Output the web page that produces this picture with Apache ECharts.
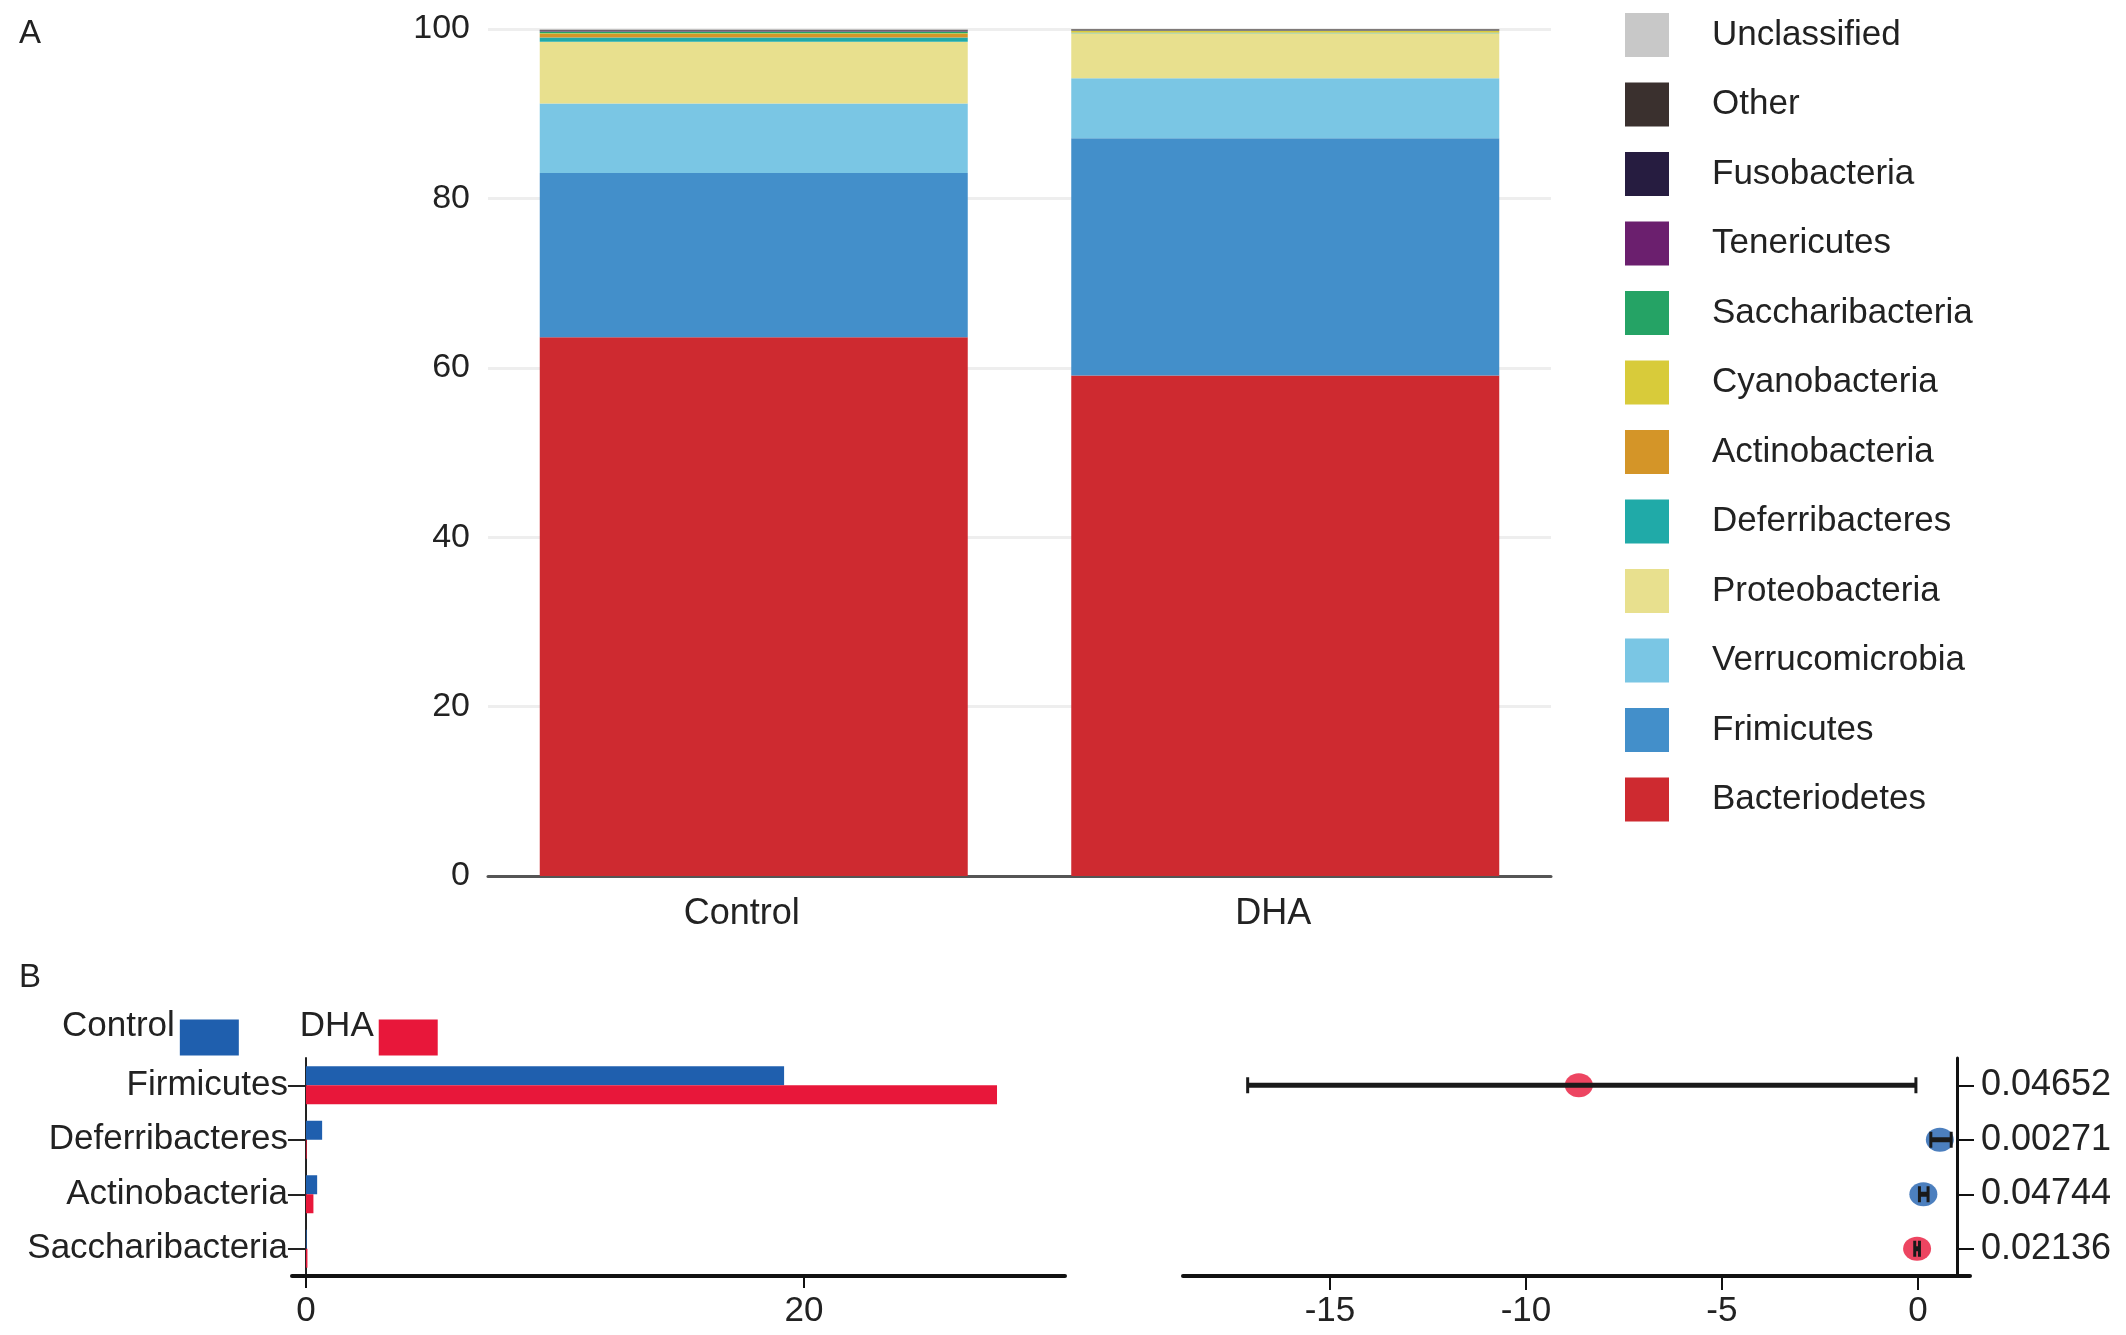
<!DOCTYPE html>
<html>
<head>
<meta charset="utf-8">
<script src="https://cdn.jsdelivr.net/npm/echarts@6/dist/echarts.min.js"></script>
<style>html,body{margin:0;padding:0;background:#fff}#c{width:2126px;height:1335px}</style>
</head>
<body>
<div id="c"></div>
<script>
// ---- Panel A data (relative abundance, %) ----
const groups = ['Control', 'DHA'];
const phyla = ['Bacteriodetes', 'Frimicutes', 'Verrucomicrobia', 'Proteobacteria', 'Deferribacteres',
  'Actinobacteria', 'Cyanobacteria', 'Saccharibacteria', 'Tenericutes', 'Fusobacteria', 'Other', 'Unclassified'];
const controlAbund = [63.6, 19.4, 8.2, 7.3, 0.5, 0.4, 0.1, 0.2, 0.1, 0.02, 0.1, 0.05];
const dhaAbund = [59.1, 28.0, 7.1, 5.3, 0.05, 0.05, 0.2, 0.03, 0.03, 0.02, 0.1, 0.02];
const yTicksA = [0, 20, 40, 60, 80, 100];

// ---- Panel B data ----
const diffTaxa = ['Firmicutes', 'Deferribacteres', 'Actinobacteria', 'Saccharibacteria'];
const controlMean = [19.2, 0.65, 0.45, 0.03];
const dhaMean = [27.75, 0.03, 0.3, 0.06];
const diffEst = [-8.65, 0.56, 0.14, -0.02];
const ciLow = [-17.1, 0.33, 0.04, -0.08];
const ciHigh = [-0.05, 0.85, 0.26, 0.04];
const pValues = ['0.04652', '0.00271', '0.04744', '0.02136'];
const xTicksBLeft = [0, 20];
const xTicksBRight = [-15, -10, -5, 0];

// ---- styles ----
const phylaColors = ['#ce2a30', '#438fca', '#7ac6e4', '#e8e08e', '#20aaa8', '#d49528',
  '#d8cb3a', '#25a365', '#6b1f6e', '#261c40', '#3a302e', '#c8c8c8'];
const ctrlColor = '#1f5fae';
const dhaColor = '#e8173a';
const FONT = '"Liberation Sans", Arial, Helvetica, sans-serif';
const txt = '#222';

const chart = echarts.init(document.getElementById('c'));

const stackSeries = phyla.map((p, i) => ({
  name: p, type: 'bar', stack: 'abund', xAxisIndex: 0, yAxisIndex: 0,
  barWidth: 428, itemStyle: { color: phylaColors[i] },
  data: [controlAbund[i], dhaAbund[i]]
}));

const option = {
  animation: false,
  textStyle: { fontFamily: FONT },
  title: [
    { text: 'A', left: 14, top: 12, textStyle: { fontSize: 33, fontWeight: 'normal', color: txt, fontFamily: FONT } },
    { text: 'B', left: 14, top: 956, textStyle: { fontSize: 33, fontWeight: 'normal', color: txt, fontFamily: FONT } }
  ],
  legend: [
    {
      data: phyla.slice().reverse(), orient: 'vertical', left: 1620, top: 8,
      itemWidth: 44, itemHeight: 44, itemGap: 25.5, icon: 'rect',
      selectedMode: false,
      textStyle: { fontSize: 35, color: txt, fontFamily: FONT, padding: [0, 0, 0, 38] }
    },
    {
      data: ['Control', 'DHA'], orient: 'horizontal', left: 57, top: 1004, align: 'right',
      itemWidth: 59, itemHeight: 36, itemGap: 61, icon: 'rect', selectedMode: false,
      formatter: function (name) { return '{t|' + name + '}'; },
      textStyle: {
        fontSize: 35, color: txt, fontFamily: FONT,
        rich: { t: { fontSize: 35, color: txt, fontFamily: FONT, padding: [0, 0, 22, 0] } }
      }
    }
  ],
  grid: [
    { left: 488, top: 29, width: 1063, height: 847 },
    { left: 292, top: 1058, width: 773, height: 218 },
    { left: 1183, top: 1058, width: 787, height: 218 }
  ],
  xAxis: [
    {
      type: 'category', gridIndex: 0, data: groups,
      axisLine: { lineStyle: { color: '#555', width: 3 } },
      axisTick: { show: false },
      axisLabel: { fontSize: 36, color: txt, margin: 20, fontFamily: FONT, padding: [0, 24, 0, 0] }
    },
    {
      type: 'value', gridIndex: 1, min: -0.56, max: 30.48,
      splitLine: { show: false },
      axisLine: { show: true, lineStyle: { color: '#111', width: 4 } },
      axisTick: { show: true, length: 12, customValues: xTicksBLeft, lineStyle: { color: '#111', width: 2 } },
      axisLabel: { fontSize: 35, color: txt, margin: 18, customValues: xTicksBLeft, fontFamily: FONT }
    },
    {
      type: 'value', gridIndex: 2, min: -18.75, max: 1.33,
      splitLine: { show: false },
      axisLine: { show: true, lineStyle: { color: '#111', width: 4 } },
      axisTick: { show: true, length: 14, customValues: xTicksBRight, lineStyle: { color: '#111', width: 2 } },
      axisLabel: { fontSize: 35, color: txt, margin: 18, customValues: xTicksBRight, fontFamily: FONT }
    }
  ],
  yAxis: [
    {
      type: 'value', gridIndex: 0, min: 0, max: 100, interval: 20,
      axisLine: { show: false }, axisTick: { show: false },
      splitLine: { lineStyle: { color: '#eeeeee', width: 3 } },
      axisLabel: { fontSize: 34, color: txt, margin: 18, fontFamily: FONT }
    },
    {
      type: 'category', gridIndex: 1, data: diffTaxa, inverse: true,
      axisLine: { show: true, onZero: true, lineStyle: { color: '#222', width: 2 } },
      axisTick: { show: true, alignWithLabel: true, length: 18, lineStyle: { color: '#222', width: 2 } },
      axisLabel: { fontSize: 35, color: txt, margin: 4, fontFamily: FONT }
    },
    {
      type: 'category', gridIndex: 2, data: pValues, inverse: true, position: 'right', offset: -13,
      axisLine: { show: true, onZero: false, lineStyle: { color: '#111', width: 3 } },
      axisTick: { show: true, alignWithLabel: true, length: 17, lineStyle: { color: '#111', width: 2 } },
      axisLabel: { fontSize: 36, color: txt, margin: 24, fontFamily: FONT }
    }
  ],
  series: stackSeries.concat([
    {
      name: 'Control', type: 'bar', xAxisIndex: 1, yAxisIndex: 1, barWidth: 19, barGap: '0%',
      itemStyle: { color: ctrlColor }, data: controlMean
    },
    {
      name: 'DHA', type: 'bar', xAxisIndex: 1, yAxisIndex: 1, barWidth: 19, barGap: '0%',
      itemStyle: { color: dhaColor }, data: dhaMean
    },
    {
      name: 'Difference', type: 'scatter', xAxisIndex: 2, yAxisIndex: 2, z: 3,
      symbolSize: [28, 24],
      data: diffEst.map((v, i) => ({ value: [v, i], itemStyle: { color: v < 0 ? dhaColor : ctrlColor } }))
    },
    {
      name: 'CI', type: 'custom', xAxisIndex: 2, yAxisIndex: 2, z: 5,
      encode: { x: [0, 1], y: 2 },
      data: diffTaxa.map((_, i) => [ciLow[i], ciHigh[i], i]),
      renderItem: function (params, api) {
        const lo = api.coord([api.value(0), api.value(2)]);
        const hi = api.coord([api.value(1), api.value(2)]);
        const h = 8;
        const st = { stroke: '#1a1a1a', lineWidth: 5 };
        const cap = { stroke: '#1a1a1a', lineWidth: 3 };
        return {
          type: 'group', children: [
            { type: 'line', shape: { x1: lo[0], y1: lo[1], x2: hi[0], y2: hi[1] }, style: st },
            { type: 'line', shape: { x1: lo[0], y1: lo[1] - h, x2: lo[0], y2: lo[1] + h }, style: cap },
            { type: 'line', shape: { x1: hi[0], y1: hi[1] - h, x2: hi[0], y2: hi[1] + h }, style: cap }
          ]
        };
      }
    }
  ])
};
chart.setOption(option);
</script>
</body>
</html>
